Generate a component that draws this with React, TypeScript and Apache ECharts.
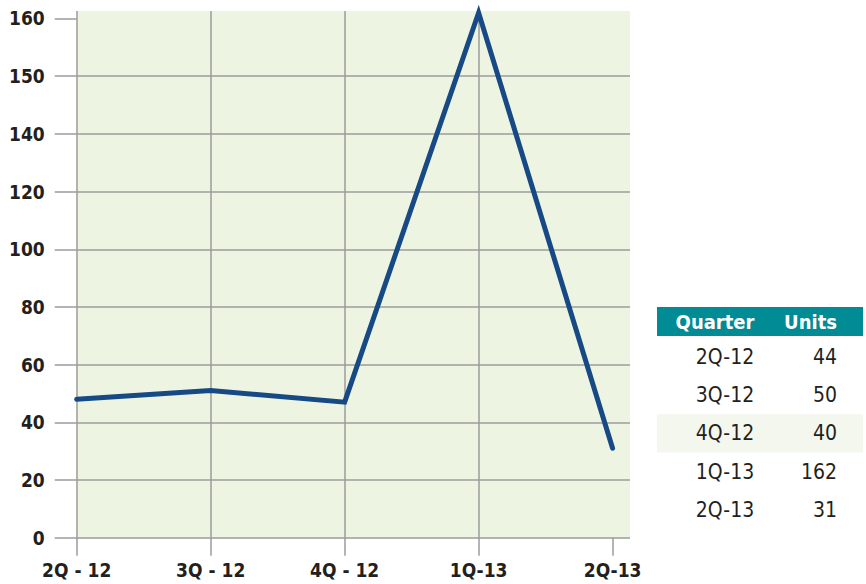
import React, { useEffect, useRef } from "react";
import * as echarts from "echarts";

const categories = ["2Q - 12", "3Q - 12", "4Q - 12", "1Q-13", "2Q-13"];
const lineValues = [48, 51, 47, 161, 31];
const yTickLabels = [0, 20, 40, 60, 80, 100, 120, 140, 150, 160];
const tableHeader = ["Quarter", "Units"];
const tableQuarters = ["2Q-12", "3Q-12", "4Q-12", "1Q-13", "2Q-13"];
const tableUnits = [44, 50, 40, 162, 31];
const highlightRow = 2;

const FONT = "'Liberation Sans Narrow', 'DejaVu Sans Condensed', 'Arial Narrow', 'Liberation Sans', sans-serif";

// piecewise axis: ticks 0..140 step 20, then 150, 160 (equal spacing)
function toAxis(v: number): number {
  return v <= 140 ? v / 20 : 7 + (v - 140) / 10;
}

export default function App() {
  const ref = useRef<HTMLDivElement>(null);
  useEffect(() => {
    if (!ref.current) return;
    const chart = echarts.init(ref.current, undefined, { renderer: "svg" });
    const gridColor = "#9b9b9b";
    const tableLeft = 657;
    const tableRight = 863;
    const headerTop = 307;
    const headerH = 29;
    const rowH = 38.3;
    const firstRowCenter = 356.7;
    const graphics: any[] = [
      {
        type: "rect",
        shape: { x: tableLeft, y: headerTop, width: tableRight - tableLeft, height: headerH },
        style: { fill: "#008b95" },
      },
      {
        type: "rect",
        shape: {
          x: tableLeft,
          y: firstRowCenter + highlightRow * rowH - rowH / 2,
          width: tableRight - tableLeft,
          height: rowH,
        },
        style: { fill: "#f3f7ee" },
      },
      {
        type: "text",
        x: 715,
        y: headerTop + headerH / 2,
        style: {
          text: tableHeader[0],
          fill: "#ffffff",
          font: `bold 20px ${FONT}`,
          textAlign: "center",
          textVerticalAlign: "middle",
        },
      },
      {
        type: "text",
        x: 837,
        y: headerTop + headerH / 2,
        style: {
          text: tableHeader[1],
          fill: "#ffffff",
          font: `bold 20px ${FONT}`,
          textAlign: "right",
          textVerticalAlign: "middle",
        },
      },
    ];
    tableQuarters.forEach((q, i) => {
      const cy = firstRowCenter + i * rowH;
      graphics.push({
        type: "text",
        x: 725,
        y: cy,
        style: { text: q, fill: "#231f20", font: `21px ${FONT}`, textAlign: "center", textVerticalAlign: "middle" },
      });
      graphics.push({
        type: "text",
        x: 837,
        y: cy,
        style: {
          text: String(tableUnits[i]),
          fill: "#231f20",
          font: `21px ${FONT}`,
          textAlign: "right",
          textVerticalAlign: "middle",
        },
      });
    });

    const option: any = {
      animation: false,
      backgroundColor: "#ffffff",
      grid: {
        left: 76.7,
        right: 236,
        top: 11,
        bottom: 46.3,
        show: true,
        backgroundColor: "#edf5e2",
        borderWidth: 0,
      },
      xAxis: {
        type: "value",
        min: 0,
        max: 4.13,
        interval: 1,
        axisLine: { show: false },
        axisTick: {
          show: true,
          length: 18,
          lineStyle: { color: gridColor, width: 1.5 },
          customValues: [0, 1, 2, 3, 4],
        },
        axisLabel: {
          customValues: [0, 1, 2, 3, 4],
          formatter: (v: number) => categories[Math.round(v)] ?? "",
          color: "#231f20",
          fontFamily: FONT,
          fontWeight: "bold",
          fontSize: 19,
          margin: 23,
        },
        splitLine: { show: true, showMaxLine: false, lineStyle: { color: gridColor, width: 1.5 } },
      },
      yAxis: {
        type: "value",
        min: 0,
        max: 9.13,
        interval: 1,
        axisLine: { show: false },
        axisTick: {
          show: true,
          length: 22,
          lineStyle: { color: gridColor, width: 1.5 },
          customValues: [0, 1, 2, 3, 4, 5, 6, 7, 8, 9],
        },
        axisLabel: {
          customValues: [0, 1, 2, 3, 4, 5, 6, 7, 8, 9],
          formatter: (v: number) => String(yTickLabels[Math.round(v)] ?? ""),
          color: "#231f20",
          fontFamily: FONT,
          fontWeight: "bold",
          fontSize: 19,
          margin: 32,
        },
        splitLine: { show: true, showMaxLine: false, lineStyle: { color: gridColor, width: 1.5 } },
      },
      series: [
        {
          type: "line",
          data: lineValues.map((v, i) => [i, toAxis(v)]),
          symbol: "none",
          lineStyle: { color: "#174a85", width: 5, join: "miter", cap: "round" },
          clip: false,
        },
      ],
      graphic: graphics,
    };
    chart.setOption(option);
    return () => chart.dispose();
  }, []);
  return (
    <div
      ref={ref}
      style={{ position: "fixed", left: 0, top: 0, width: 866, height: 584, background: "#fff" }}
    />
  );
}
